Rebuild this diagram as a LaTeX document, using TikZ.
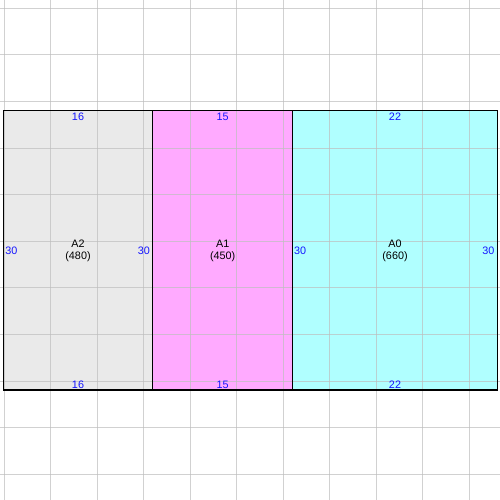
\documentclass[tikz,border=0pt]{standalone}
\usepackage{fontspec}
\setmainfont{Liberation Sans}
\definecolor{grayfill}{RGB}{234,234,234}
\definecolor{pinkfill}{RGB}{255,170,255}
\definecolor{cyanfill}{RGB}{176,255,255}
\definecolor{gridcol}{RGB}{190,190,190}
\definecolor{numblue}{RGB}{20,20,255}
\begin{document}
\begin{tikzpicture}[x=1pt,y=-1pt,
  gridline/.style={draw=gridcol, line width=1pt, opacity=0.7},
  border/.style={draw=black, line width=1.2pt},
  num/.style={text=numblue, font=\fontsize{10.8}{12}\selectfont, inner sep=0pt},
  lbl/.style={text=black, font=\fontsize{10.8}{12}\selectfont, inner sep=0pt, anchor=base}
]
\useasboundingbox (0,0) rectangle (500,500);
\fill[white] (0,0) rectangle (500,500);
% fills
\fill[grayfill] (3.3,110.3) rectangle (152.7,390);
\fill[pinkfill] (152.7,110.3) rectangle (292.7,390);
\fill[cyanfill] (292.7,110.3) rectangle (497.3,390);
% grid
\foreach \i in {0,...,10} {
  \draw[gridline] ({4+46.5*\i},0) -- ({4+46.5*\i},500);
  \draw[gridline] (0,{8.3+46.6*\i}) -- (500,{8.3+46.6*\i});
}
% borders
\draw[border] (3.3,110.3) rectangle (152.7,390);
\draw[border] (152.7,110.3) rectangle (292.7,390);
\draw[border] (292.7,110.3) rectangle (497.3,390);
% A2
\node[num, anchor=base] (a2t) at (78,120.7) {16};
\node[num, anchor=base] (a2b) at (78,388.3) {16};
\node[num, anchor=base west] (a2l) at (5.2,254.3) {30};
\node[num, anchor=base east] (a2r) at (150.2,254.3) {30};
\node[lbl] (a2n) at (78,247.3) {A2};
\node[lbl] (a2v) at (78,259.6) {(480)};
% A1
\node[num, anchor=base] (a1t) at (222.7,120.7) {15};
\node[num, anchor=base] (a1b) at (222.7,388.3) {15};
\node[lbl] (a1n) at (222.7,247.3) {A1};
\node[lbl] (a1v) at (222.7,259.6) {(450)};
% A0
\node[num, anchor=base] (a0t) at (395,120.7) {22};
\node[num, anchor=base] (a0b) at (395,388.3) {22};
\node[num, anchor=base west] (a0l) at (294,254.3) {30};
\node[num, anchor=base east] (a0r) at (494.5,254.3) {30};
\node[lbl] (a0n) at (395,247.3) {A0};
\node[lbl] (a0v) at (395,259.6) {(660)};
\end{tikzpicture}
\end{document}
